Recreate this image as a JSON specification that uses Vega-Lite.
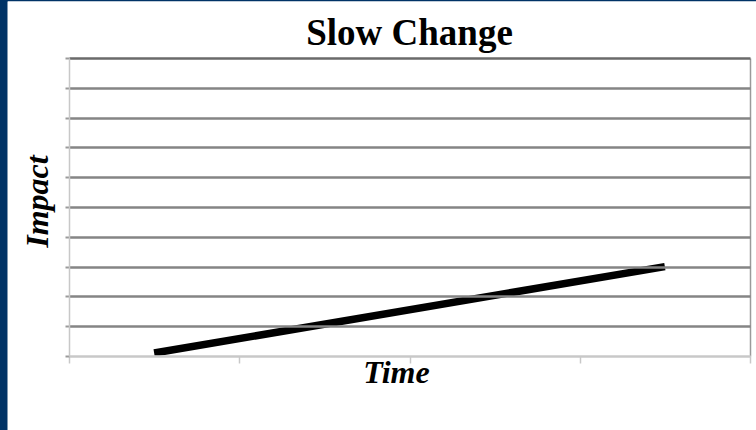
{
  "$schema": "https://vega.github.io/schema/vega-lite/v6.json",
  "width": 681,
  "height": 298,
  "autosize": {"type": "none"},
  "padding": {"left": 69, "top": 58, "right": 6, "bottom": 74},
  "background": "#003366",
  "title": {"text": "Slow Change", "font": "Liberation Serif", "fontSize": 37, "fontWeight": "bold", "color": "#000000", "baseline": "alphabetic", "offset": -81, "anchor": "middle", "frame": "group"},
  "config": {"view": {"stroke": null}},
  "data": {"values": [{"time": 0.5, "impact": 0.1}, {"time": 3.5, "impact": 3}]},
  "layer": [
    {
      "mark": {"type": "rect", "fill": "#ffffff", "clip": false},
      "encoding": {
        "x": {"datum": -0.36, "type": "quantitative", "scale": {"domain": [0, 4], "nice": false, "zero": false},
          "axis": {"zindex": 1, "values": [0, 1, 2, 3, 4], "labels": false, "domainColor": "#c8c8c8", "domainWidth": 1.5, "tickColor": "#c8c8c8", "tickSize": 7, "tickWidth": 1.5, "grid": true, "gridWidth": 1.5, "gridColor": {"condition": {"test": "datum.value == 4", "value": "#9a9a9a"}, "value": "transparent"}, "title": "Time", "titleFont": "Liberation Serif", "titleFontSize": 32, "titleFontWeight": "bold", "titleFontStyle": "italic", "titleColor": "#000000", "titleX": 327, "titleY": 26, "titleBaseline": "alphabetic", "titleAlign": "center"}},
        "x2": {"datum": 4.1},
        "y": {"datum": 11.9, "type": "quantitative", "scale": {"domain": [0, 10], "nice": false, "zero": false},
          "axis": {"zindex": 1, "values": [0, 1, 2, 3, 4, 5, 6, 7, 8, 9, 10], "labels": false, "domainColor": "#c8c8c8", "domainWidth": 1.5, "tickColor": "#9a9a9a", "tickSize": 4, "tickWidth": 2, "grid": true, "gridWidth": 2.4, "gridColor": {"condition": [{"test": "datum.value == 0", "value": "#cfcfcf"}, {"test": "datum.value == 10", "value": "#6a6a6a"}], "value": "#858585"}, "title": "Impact", "titleFont": "Liberation Serif", "titleFontSize": 32, "titleFontWeight": "bold", "titleFontStyle": "italic", "titleColor": "#000000", "titleAngle": 270, "titleX": -22, "titleY": 143, "titleBaseline": "alphabetic", "titleAlign": "center"}},
        "y2": {"datum": -2.7}
      }
    },
    {
      "mark": {"type": "line", "color": "#000000", "strokeWidth": 7.5, "strokeCap": "butt"},
      "encoding": {
        "x": {"field": "time", "type": "quantitative", "scale": {"domain": [0, 4], "nice": false, "zero": false},
          "axis": {"zindex": 1, "values": [0, 1, 2, 3, 4], "labels": false, "domainColor": "#c8c8c8", "domainWidth": 1.5, "tickColor": "#c8c8c8", "tickSize": 7, "tickWidth": 1.5, "grid": true, "gridWidth": 1.5, "gridColor": {"condition": {"test": "datum.value == 4", "value": "#9a9a9a"}, "value": "transparent"}, "title": "Time", "titleFont": "Liberation Serif", "titleFontSize": 32, "titleFontWeight": "bold", "titleFontStyle": "italic", "titleColor": "#000000", "titleX": 327, "titleY": 26, "titleBaseline": "alphabetic", "titleAlign": "center"}},
        "y": {"field": "impact", "type": "quantitative", "scale": {"domain": [0, 10], "nice": false, "zero": false},
          "axis": {"zindex": 1, "values": [0, 1, 2, 3, 4, 5, 6, 7, 8, 9, 10], "labels": false, "domainColor": "#c8c8c8", "domainWidth": 1.5, "tickColor": "#9a9a9a", "tickSize": 4, "tickWidth": 2, "grid": true, "gridWidth": 2.4, "gridColor": {"condition": [{"test": "datum.value == 0", "value": "#cfcfcf"}, {"test": "datum.value == 10", "value": "#6a6a6a"}], "value": "#858585"}, "title": "Impact", "titleFont": "Liberation Serif", "titleFontSize": 32, "titleFontWeight": "bold", "titleFontStyle": "italic", "titleColor": "#000000", "titleAngle": 270, "titleX": -22, "titleY": 143, "titleBaseline": "alphabetic", "titleAlign": "center"}}
      }
    }
  ]
}
